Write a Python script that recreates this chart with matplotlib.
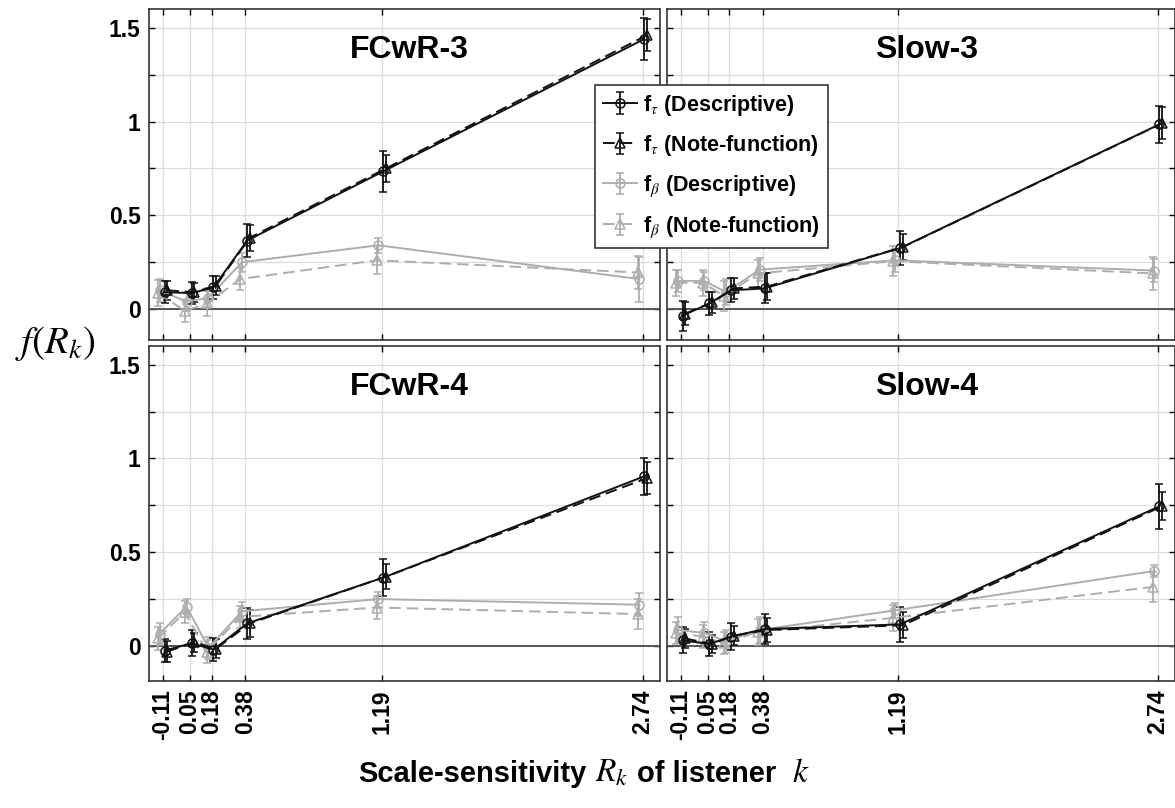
import numpy as np
import matplotlib
matplotlib.use("Agg")
import matplotlib.pyplot as plt
from matplotlib.offsetbox import TextArea, HPacker, AnchoredOffsetbox

plt.rcParams["font.family"] = ["Liberation Sans", "DejaVu Sans"]
plt.rcParams["mathtext.fontset"] = "stix"

# scale-sensitivity values (x positions)
r_ticks = [-0.11, 0.05, 0.18, 0.38, 1.19, 2.74]
panel_names = ["FCwR-3", "Slow-3", "FCwR-4", "Slow-4"]

# FCwR-3
fcwr3_tau_desc = [0.09, 0.085, 0.115, 0.365, 0.735, 1.44]
fcwr3_tau_desc_err = [0.06, 0.06, 0.06, 0.09, 0.11, 0.11]
fcwr3_tau_nf = [0.10, 0.09, 0.125, 0.38, 0.75, 1.46]
fcwr3_tau_nf_err = [0.05, 0.05, 0.05, 0.07, 0.07, 0.085]
fcwr3_beta_desc = [0.10, 0.04, 0.06, 0.25, 0.34, 0.16]
fcwr3_beta_desc_err = [0.06, 0.05, 0.05, 0.05, 0.04, 0.12]
fcwr3_beta_nf = [0.085, -0.01, 0.03, 0.16, 0.26, 0.195]
fcwr3_beta_nf_err = [0.07, 0.06, 0.065, 0.06, 0.075, 0.09]

# Slow-3
slow3_tau_desc = [-0.035, 0.03, 0.10, 0.11, 0.325, 0.985]
slow3_tau_desc_err = [0.08, 0.06, 0.065, 0.08, 0.09, 0.10]
slow3_tau_nf = [-0.025, 0.035, 0.11, 0.12, 0.33, 0.99]
slow3_tau_nf_err = [0.06, 0.055, 0.055, 0.07, 0.07, 0.085]
slow3_beta_desc = [0.15, 0.15, 0.09, 0.21, 0.26, 0.205]
slow3_beta_desc_err = [0.06, 0.05, 0.07, 0.06, 0.06, 0.06]
slow3_beta_nf = [0.14, 0.14, 0.07, 0.19, 0.255, 0.19]
slow3_beta_nf_err = [0.07, 0.07, 0.08, 0.07, 0.08, 0.09]

# FCwR-4
fcwr4_tau_desc = [-0.025, 0.015, -0.02, 0.12, 0.365, 0.905]
fcwr4_tau_desc_err = [0.06, 0.07, 0.06, 0.085, 0.10, 0.10]
fcwr4_tau_nf = [-0.03, 0.02, -0.015, 0.12, 0.37, 0.895]
fcwr4_tau_nf_err = [0.055, 0.05, 0.05, 0.07, 0.065, 0.085]
fcwr4_beta_desc = [0.065, 0.21, -0.01, 0.185, 0.25, 0.22]
fcwr4_beta_desc_err = [0.06, 0.04, 0.06, 0.05, 0.04, 0.06]
fcwr4_beta_nf = [0.04, 0.18, -0.03, 0.155, 0.205, 0.17]
fcwr4_beta_nf_err = [0.06, 0.06, 0.06, 0.06, 0.06, 0.08]

# Slow-4
slow4_tau_desc = [0.03, 0.01, 0.05, 0.09, 0.115, 0.745]
slow4_tau_desc_err = [0.07, 0.065, 0.07, 0.08, 0.095, 0.12]
slow4_tau_nf = [0.04, 0.01, 0.055, 0.085, 0.11, 0.745]
slow4_tau_nf_err = [0.05, 0.05, 0.05, 0.065, 0.07, 0.075]
slow4_beta_desc = [0.085, 0.07, 0.025, 0.085, 0.19, 0.40]
slow4_beta_desc_err = [0.07, 0.06, 0.06, 0.07, 0.04, 0.03]
slow4_beta_nf = [0.07, 0.05, 0.015, 0.075, 0.15, 0.315]
slow4_beta_nf_err = [0.06, 0.06, 0.06, 0.07, 0.07, 0.08]

series_labels = [r"f$_{\tau}$ (Descriptive)", r"f$_{\tau}$ (Note-function)",
                 r"f$_{\beta}$ (Descriptive)", r"f$_{\beta}$ (Note-function)"]

panel_data = {
    "FCwR-3": [(fcwr3_tau_desc, fcwr3_tau_desc_err), (fcwr3_tau_nf, fcwr3_tau_nf_err),
               (fcwr3_beta_desc, fcwr3_beta_desc_err), (fcwr3_beta_nf, fcwr3_beta_nf_err)],
    "Slow-3": [(slow3_tau_desc, slow3_tau_desc_err), (slow3_tau_nf, slow3_tau_nf_err),
               (slow3_beta_desc, slow3_beta_desc_err), (slow3_beta_nf, slow3_beta_nf_err)],
    "FCwR-4": [(fcwr4_tau_desc, fcwr4_tau_desc_err), (fcwr4_tau_nf, fcwr4_tau_nf_err),
               (fcwr4_beta_desc, fcwr4_beta_desc_err), (fcwr4_beta_nf, fcwr4_beta_nf_err)],
    "Slow-4": [(slow4_tau_desc, slow4_tau_desc_err), (slow4_tau_nf, slow4_tau_nf_err),
               (slow4_beta_desc, slow4_beta_desc_err), (slow4_beta_nf, slow4_beta_nf_err)],
}

# style per series: color, linestyle, marker, x offset
GRAY = "#adadad"
styles = [("#111111", "-", "o", 0.01),
          ("#111111", (0, (6, 3)), "^", 0.025),
          (GRAY, "-", "o", -0.02),
          (GRAY, (0, (6, 3)), "^", -0.03)]

W, H = 1175, 808
fig = plt.figure(figsize=(W / 100, H / 100), dpi=100)

# axes boxes in pixels: left, top, right, bottom
boxes = [(149, 9, 660, 340), (667, 9, 1175, 340),
         (149, 346, 660, 681), (667, 346, 1175, 681)]
ylims = [(-0.165, 1.6), (-0.165, 1.6), (-0.187, 1.6), (-0.187, 1.6)]

handles = None
for i, name in enumerate(panel_names):
    l, t, r, b = boxes[i]
    ax = fig.add_axes([l / W, 1 - b / H, (r - l) / W, (b - t) / H])
    ax.set_xlim(-0.193, 2.843)
    ax.set_ylim(*ylims[i])
    ax.set_axisbelow(True)
    ax.grid(True, color="#dcdcdc", lw=0.9)
    ax.axhline(0, color="#555555", lw=1.4, zorder=1.5)

    hs = []
    for j in [2, 3, 0, 1]:
        vals, errs = panel_data[name][j]
        col, ls, mk, dx = styles[j]
        x = np.array(r_ticks) + dx
        h = ax.errorbar(x, vals, yerr=errs, color=col, ls=ls, marker=mk,
                        mfc="none", mec=col, ms=6.5, mew=1.1, lw=1.4,
                        elinewidth=1.3, capsize=3, capthick=1.3, zorder=3)
        hs.append((j, h))
    if handles is None:
        handles = [h for _, h in sorted(hs, key=lambda p: p[0])]

    ax.set_yticks(np.arange(0, 1.51, 0.25))
    ax.set_xticks(r_ticks)
    ax.tick_params(direction="in", top=True, right=True, length=4, width=1,
                   labelsize=16.5, pad=6)
    if i % 2 == 0:
        ax.set_yticklabels(["0", "", "0.5", "", "1", "", "1.5"], fontweight="bold")
    else:
        ax.set_yticklabels([])
    if i >= 2:
        ax.set_xticklabels([f"{v:.2f}" for v in r_ticks], rotation=90,
                           fontweight="bold")
    else:
        ax.set_xticklabels([])
    for sp in ax.spines.values():
        sp.set_color("#333333")
        sp.set_linewidth(1.2)

    ax.text(0.51, 0.877, name, transform=ax.transAxes, ha="center",
            va="center", fontsize=23, fontweight="bold")

leg = fig.legend(handles, series_labels, loc="upper left",
                 bbox_to_anchor=(595 / W, 1 - 85 / H),
                 prop={"weight": "bold", "size": 15.5}, frameon=True,
                 fancybox=False, framealpha=1, edgecolor="#333333",
                 handlelength=1.6, handletextpad=0.3, labelspacing=0.72,
                 borderpad=0.35, borderaxespad=0)
leg.get_frame().set_linewidth(1.2)

fig.text(55 / W, 1 - 343 / H, r"$f(R_k)$", fontsize=28,
         ha="center", va="center")

# x label: bold words with plain italic maths
xlabel_parts = [("Scale-sensitivity", "bold", 21), (r"$R_k$", "normal", 24),
                ("of listener", "bold", 21), (r"$\ k$", "normal", 24)]
areas = [TextArea(s, textprops=dict(fontsize=fs, fontweight=w))
         for s, w, fs in xlabel_parts]
packer = HPacker(children=areas, align="baseline", pad=0, sep=6)
xlab = AnchoredOffsetbox(loc="center", child=packer, pad=0, borderpad=0,
                         frameon=False, bbox_to_anchor=(0.497, 1 - 773 / H),
                         bbox_transform=fig.transFigure)
fig.add_artist(xlab)

fig.savefig("out.png", dpi=100)
